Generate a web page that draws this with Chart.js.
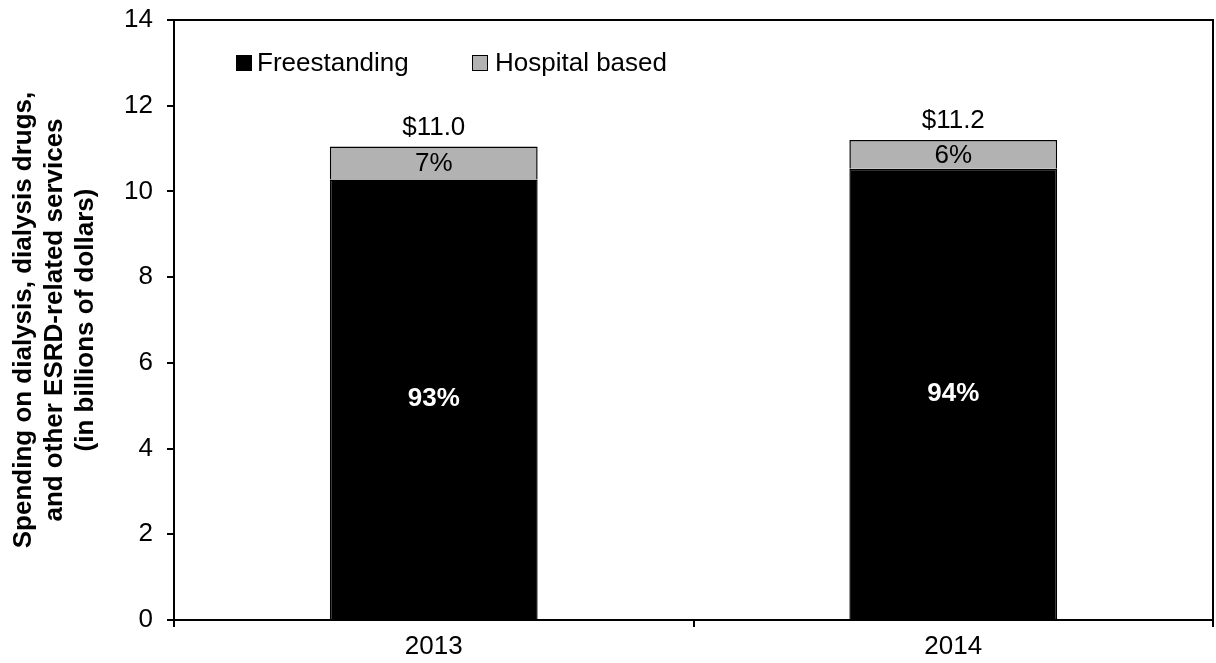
<!DOCTYPE html>
<html>
<head>
<meta charset="utf-8">
<script src="https://cdn.jsdelivr.net/npm/chart.js@4/dist/chart.umd.min.js"></script>
<style>
  body { margin: 0; background: #fff; }
  #wrap { position: relative; width: 1216px; height: 663px; }
  #legend { position: absolute; left: 0; top: 0; font: 26px 'Liberation Sans', Arial, sans-serif; color: #000; }
  .item { position: absolute; white-space: nowrap; line-height: 26px; }
  .box { position: absolute; width: 14px; height: 14px; border: 1.5px solid #000; }
</style>
</head>
<body>
<div id="wrap">
  <canvas id="chart" width="1216" height="663"></canvas>
  <div id="legend"></div>
</div>
<script>
// Chart data
const years = ['2013', '2014'];
const freestanding = [10.28, 10.53];
const hospitalBased = [0.77, 0.67];
const freestandingShare = ['93%', '94%'];
const hospitalShare = ['7%', '6%'];
const totalLabels = ['$11.0', '$11.2'];
const yTicks = [0, 2, 4, 6, 8, 10, 12, 14];

const FONT = "'Liberation Sans', Arial, sans-serif";

const datasets = [
    { label: 'Freestanding', data: freestanding, backgroundColor: '#000000', borderColor: '#000000', borderWidth: 1.5 },
    { label: 'Hospital based', data: hospitalBased, backgroundColor: '#b2b2b2', borderColor: '#000000', borderWidth: 1.5 }
];

// Border around the plot area
const framePlugin = {
    id: 'frame',
    afterDatasetsDraw(chart) {
        const { ctx, chartArea } = chart;
        ctx.save();
        ctx.strokeStyle = '#000';
        ctx.lineWidth = 2;
        ctx.strokeRect(chartArea.left, chartArea.top, chartArea.right - chartArea.left, chartArea.bottom - chartArea.top);
        ctx.restore();
    }
};

// Share labels inside bars and totals above bars
const labelPlugin = {
    id: 'barLabels',
    afterDatasetsDraw(chart) {
        const ctx = chart.ctx;
        const fsMeta = chart.getDatasetMeta(0);
        const hbMeta = chart.getDatasetMeta(1);
        ctx.save();
        ctx.textAlign = 'center';
        ctx.textBaseline = 'middle';
        years.forEach((y, i) => {
            const fs = fsMeta.data[i];
            const hb = hbMeta.data[i];
            ctx.font = 'bold 26px ' + FONT;
            ctx.fillStyle = '#fff';
            ctx.fillText(freestandingShare[i], fs.x, (fs.y + fs.base) / 2);
            ctx.font = '26px ' + FONT;
            ctx.fillStyle = '#000';
            ctx.fillText(hospitalShare[i], hb.x, (hb.y + hb.base) / 2 + 1);
            ctx.fillText(totalLabels[i], hb.x, hb.y - 19);
        });
        ctx.restore();
    }
};

function buildLegend() {
    const legend = document.getElementById('legend');
    const spots = [{ box: 236, text: 257 }, { box: 472, text: 495 }];
    datasets.forEach((ds, i) => {
        const box = document.createElement('div');
        box.className = 'box';
        box.style.left = spots[i].box + 'px';
        box.style.top = '55px';
        box.style.background = ds.backgroundColor;
        legend.appendChild(box);
        const txt = document.createElement('div');
        txt.className = 'item';
        txt.style.left = spots[i].text + 'px';
        txt.style.top = '49px';
        txt.textContent = ds.label;
        legend.appendChild(txt);
    });
}

function renderChart() {
    const ctx = document.getElementById('chart').getContext('2d');
    new Chart(ctx, {
        type: 'bar',
        data: { labels: years, datasets: datasets },
        plugins: [framePlugin, labelPlugin],
        options: {
            responsive: false,
            animation: false,
            layout: { padding: { top: 20, right: 3, left: 0, bottom: 0 } },
            plugins: {
                legend: { display: false },
                tooltip: { enabled: false }
            },
            datasets: {
                bar: { barPercentage: 0.4, categoryPercentage: 1.0 }
            },
            scales: {
                x: {
                    stacked: true,
                    grid: { drawOnChartArea: false, offset: true, color: '#000', lineWidth: 2, tickLength: 7 },
                    border: { color: '#000', width: 2 },
                    ticks: { color: '#000', font: { family: FONT, size: 26 }, padding: 4, maxRotation: 0 },
                    afterFit(scale) { scale.height = 43; scale.paddingLeft = 0; scale.paddingRight = 0; }
                },
                y: {
                    stacked: true,
                    min: 0,
                    max: 14,
                    afterBuildTicks(scale) { scale.ticks = yTicks.map(v => ({ value: v })); },
                    grid: { drawOnChartArea: false, color: '#000', lineWidth: 2, tickLength: 7 },
                    border: { color: '#000', width: 2 },
                    ticks: { color: '#000', font: { family: FONT, size: 26 }, padding: 14 },
                    title: {
                        display: true,
                        text: ['Spending on dialysis, dialysis drugs,', 'and other ESRD-related services', '(in billions of dollars)'],
                        color: '#000',
                        font: { family: FONT, size: 26, weight: 'bold', lineHeight: 1.2 },
                        padding: { top: 8, bottom: 0 }
                    },
                    afterFit(scale) { scale.width = 174; scale.paddingTop = 0; scale.paddingBottom = 0; }
                }
            }
        }
    });
}

document.addEventListener('DOMContentLoaded', () => {
    buildLegend();
    renderChart();
});
</script>
</body>
</html>
